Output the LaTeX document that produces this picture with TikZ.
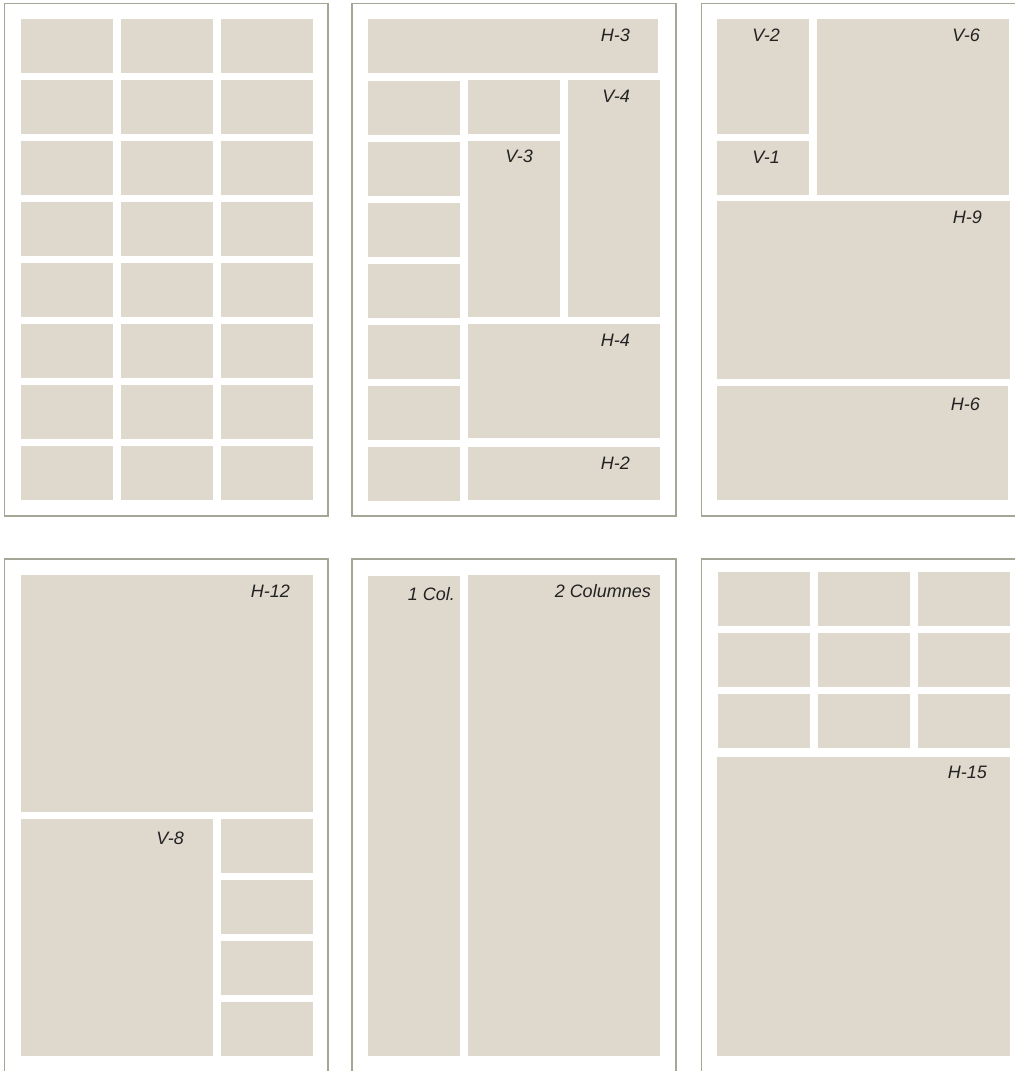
\documentclass[tikz,border=0pt]{standalone}
\usepackage{fontspec}
\setmainfont{Liberation Sans}
\usepackage{tikz}
\definecolor{pagegrey}{RGB}{166,166,150}
\definecolor{boxtan}{RGB}{223,216,205}
\definecolor{labelgrey}{RGB}{34,34,34}

\begin{document}
\begin{tikzpicture}[x=1pt,y=-1pt,
    page/.style={draw=pagegrey,line width=1.4pt},
    cell/.style={fill=boxtan},
    lbl/.style={anchor=north east,inner sep=0pt,text=labelgrey,
      font=\fontsize{18}{20}\selectfont\itshape}]
    \useasboundingbox (0,0) rectangle (1015,1071);
    % top row of pages
    \draw[page] (4.5,3.5) rectangle (328,516);
    \draw[page] (352,3.5) rectangle (676,516);
    \draw[page] (1015,3.5) -- (701.5,3.5) -- (701.5,516) -- (1015,516);
    % bottom row of pages
    \draw[page] (4.5,1071) |- (328,559) -- (328,1071);
    \draw[page] (352,1071) |- (676,559) -- (676,1071);
    \draw[page] (701.5,1071) |- (1015,559);

    % page 1: full grid
    \foreach \r in {0,...,7}
      \foreach \c in {0,1,2}
        \fill[cell] ({21+100*\c},{19+61*\r}) rectangle ++(92,54);

    % page 2
    \fill[cell] (368,19) rectangle (658,73);
    \foreach \r in {0,...,6}
      \fill[cell] (368,{81+61*\r}) rectangle ++(92,54);
    \fill[cell] (468,80) rectangle (560,134);
    \fill[cell] (468,141) rectangle (560,317);
    \fill[cell] (568,80) rectangle (660,317);
    \fill[cell] (468,324) rectangle (660,438);
    \fill[cell] (468,447) rectangle (660,500);
    \node[lbl] (h3) at (630,29) {H-3};
    \node[lbl] (v4) at (630,90) {V-4};
    \node[lbl] (v3) at (533,150) {V-3};
    \node[lbl] (h4) at (630,334) {H-4};
    \node[lbl] (h2) at (630,457) {H-2};

    % page 3
    \fill[cell] (717,19) rectangle (809,134);
    \fill[cell] (717,141) rectangle (809,195);
    \fill[cell] (817,19) rectangle (1009,195);
    \fill[cell] (717,201) rectangle (1010,379);
    \fill[cell] (717,386) rectangle (1008,500);
    \node[lbl] (v2) at (780,29) {V-2};
    \node[lbl] (v1) at (780,151) {V-1};
    \node[lbl] (v6) at (980,29) {V-6};
    \node[lbl] (h9) at (982,211) {H-9};
    \node[lbl] (h6) at (980,398) {H-6};

    % page 4
    \fill[cell] (21,575) rectangle (313,812);
    \fill[cell] (21,819) rectangle (213,1056);
    \foreach \r in {0,...,3}
      \fill[cell] (221,{819+61*\r}) rectangle ++(92,54);
    \node[lbl] (h12) at (290,585) {H-12};
    \node[lbl] (v8) at (184,832) {V-8};

    % page 5
    \fill[cell] (368,576) rectangle (460,1056);
    \fill[cell] (468,575) rectangle (660,1056);
    \node[lbl] (col1) at (455,587) {1 Col.};
    \node[lbl] (col2) at (651,584) {2 Columnes};

    % page 6
    \foreach \r in {0,1,2}
      \foreach \c in {0,1,2}
        \fill[cell] ({718+100*\c},{572+61*\r}) rectangle ++(92,54);
    \fill[cell] (717,757) rectangle (1010,1056);
    \node[lbl] (h15) at (987,766) {H-15};
\end{tikzpicture}
\end{document}
